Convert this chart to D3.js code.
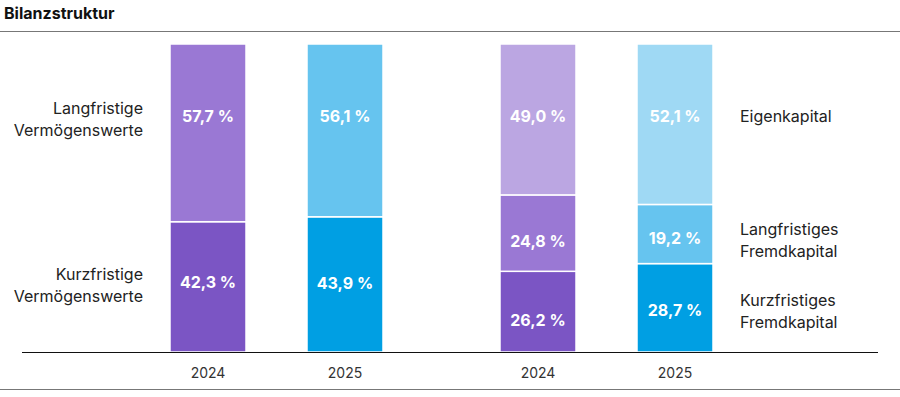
<!DOCTYPE html>
<html lang="de">
<head>
<meta charset="UTF-8">
<title>Bilanzstruktur</title>
<script src="https://d3js.org/d3.v7.min.js"></script>
<style>
  body { margin: 0; background: #fff; font-family: Inter, "Noto Sans", sans-serif; }
  svg text { font-family: Inter, "Noto Sans", sans-serif; }
</style>
</head>
<body>
<svg id="chart" width="900" height="397"></svg>
<script>
// Aktiva / Passiva, Anteile in Prozent (von unten nach oben)
const years = ["2024", "2025"]
const aktiva2024 = [42.3, 57.7]
const aktiva2025 = [43.9, 56.1]
const passiva2024 = [26.2, 24.8, 49.0]
const passiva2025 = [28.7, 19.2, 52.1]
const aktivaLabels = [["Kurzfristige", "Vermögenswerte"], ["Langfristige", "Vermögenswerte"]]
const passivaLabels = [["Kurzfristiges", "Fremdkapital"], ["Langfristiges", "Fremdkapital"], ["Eigenkapital"]]

const purple = ["#7b55c4", "#9a78d4", "#bba6e2"]
const blue = ["#009fe3", "#66c4ef", "#9fd9f4"]

// Grundlinien der Wertebeschriftungen (wie im Original von Hand gesetzt)
const valueBaselines = {
  "aktiva-2024": [288, 122],
  "aktiva-2025": [289, 122],
  "passiva-2024": [326, 247, 122],
  "passiva-2025": [316, 244, 122]
}
const aktivaLabelY = [280, 114]
const passivaLabelY = [306, 235, 122]

const svg = d3.select("#chart")
const W = 900

svg.append("text").attr("x", 4).attr("y", 19)
  .attr("font-size", 16).attr("font-weight", 700).attr("fill", "#111")
  .text("Bilanzstruktur")
svg.append("line").attr("x1", 0).attr("x2", W).attr("y1", 31.5).attr("y2", 31.5)
  .attr("stroke", "#777").attr("stroke-width", 1)
svg.append("line").attr("x1", 0).attr("x2", W).attr("y1", 389.5).attr("y2", 389.5)
  .attr("stroke", "#777").attr("stroke-width", 1)

const y = d3.scaleLinear().domain([0, 100]).range([352, 44])

const columns = [
  { key: "aktiva-2024", year: years[0], values: aktiva2024, colors: purple },
  { key: "aktiva-2025", year: years[1], values: aktiva2025, colors: blue },
  { key: "passiva-2024", year: years[0], values: passiva2024, colors: purple },
  { key: "passiva-2025", year: years[1], values: passiva2025, colors: blue }
]

const x = d3.scaleOrdinal()
  .domain(columns.map(c => c.key))
  .range([170, 307, 500, 637])
const bw = 76

let fmt = v => d3.format(".1f")(v).replace(".", ",") + " %"

columns.forEach(col => {
  let acc = 0
  const segs = col.values.map((v, i) => {
    const s = { v: v, y0: acc, y1: acc + v, color: col.colors[i], ty: valueBaselines[col.key][i] }
    acc += v
    return s
  })
  const g = svg.append("g")
  g.selectAll("rect").data(segs).enter().append("rect")
    .attr("x", x(col.key))
    .attr("width", bw)
    .attr("y", d => y(d.y1))
    .attr("height", d => y(d.y0) - y(d.y1))
    .attr("fill", d => d.color)
    .attr("stroke", "#fff")
    .attr("stroke-width", 1.5)
  g.selectAll("text.val").data(segs).enter().append("text")
    .attr("class", "val")
    .attr("x", x(col.key) + bw / 2)
    .attr("y", d => d.ty)
    .attr("text-anchor", "middle")
    .attr("font-size", 16).attr("font-weight", 700).attr("fill", "#fff")
    .text(d => fmt(d.v))
  svg.append("text")
    .attr("x", x(col.key) + bw / 2).attr("y", 378)
    .attr("text-anchor", "middle").attr("font-size", 14).attr("fill", "#333")
    .text(col.year)
})

// Grundlinie
svg.append("line").attr("x1", 22).attr("x2", 878).attr("y1", 352.5).attr("y2", 352.5)
  .attr("stroke", "#111").attr("stroke-width", 1.2)

// Kategorienbeschriftungen
function drawLabel(lines, xPos, yFirst, anchor) {
  const t = svg.append("text").attr("x", xPos).attr("text-anchor", anchor)
    .attr("font-size", 16).attr("fill", "#222")
  lines.forEach((l, i) => {
    t.append("tspan").attr("x", xPos).attr("y", yFirst + i * 21.5).text(l)
  })
}

aktivaLabels.forEach((l, i) => drawLabel(l, 143, aktivaLabelY[i], "end"))
passivaLabels.forEach((l, i) => drawLabel(l, 740, passivaLabelY[i], "start"))
</script>
</body>
</html>
